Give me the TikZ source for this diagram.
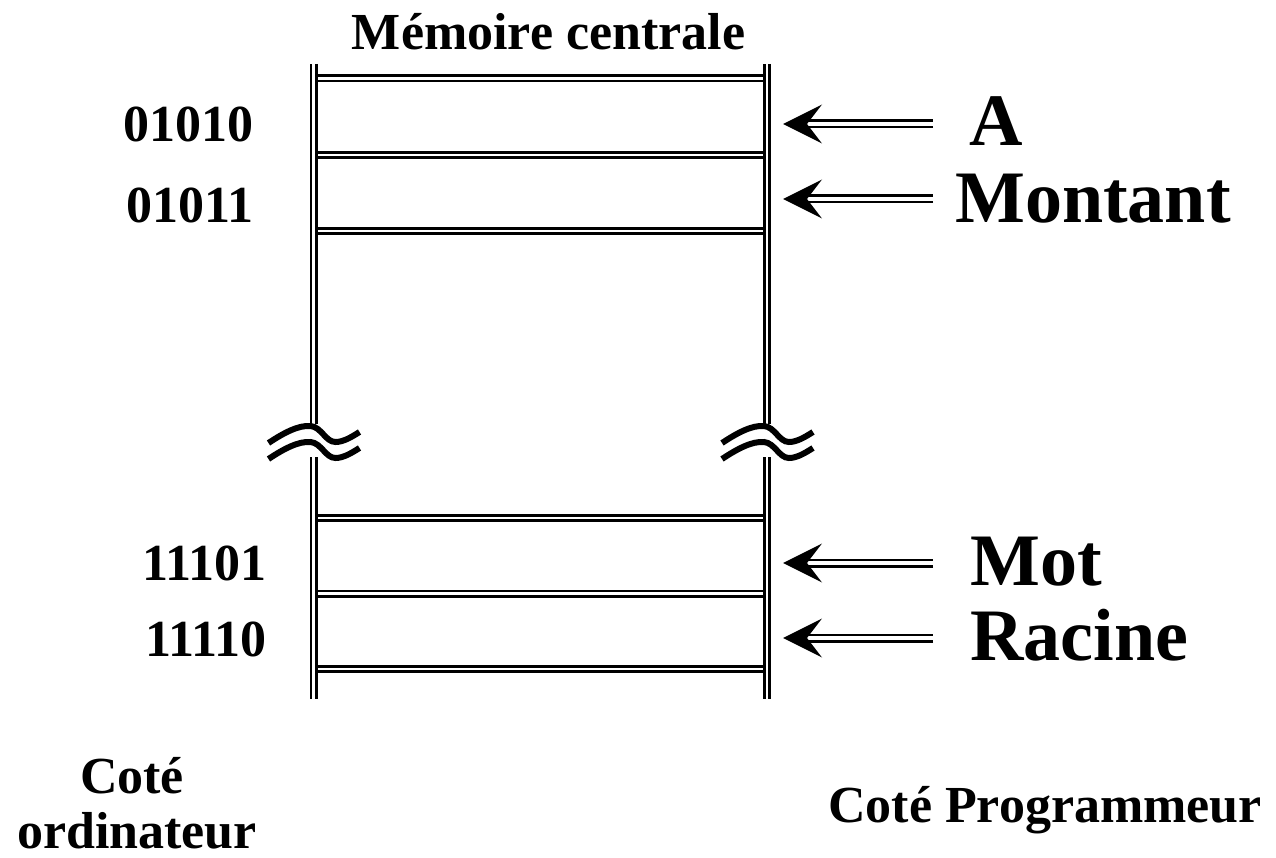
\documentclass[tikz,border=0pt]{standalone}
\usepackage{fontspec}
\setmainfont{Liberation Serif}
\begin{document}
\begin{tikzpicture}[x=1pt,y=-1pt,
  rail/.style={double, line width=2.7pt, double distance=2.6pt, line cap=butt},
  wave/.style={line width=6pt, line cap=butt},
  lbl/.style={inner sep=0pt, font=\fontsize{52}{60}\selectfont\bfseries},
  big/.style={inner sep=0pt, font=\fontsize{74}{84}\selectfont\bfseries},
  shaft/.style={double, line width=2.8pt, double distance=3.4pt, line cap=butt, shorten >=22pt},
  head/.pic={\fill (0,0) -- (39,-19.5) -- (24,0) -- (39,19.5) -- cycle;},
  brk/.pic={
    \draw[wave] (-45,443) .. controls (-30,433) and (-15,425) .. (-3,426)
                .. controls (8,427) and (12,442) .. (22,442)
                .. controls (30,442) and (38,437) .. (46,432);
    \draw[wave] (-45,459) .. controls (-30,449) and (-15,441) .. (-3,442)
                .. controls (8,443) and (12,458) .. (22,458)
                .. controls (30,458) and (38,453) .. (46,448);
  }
]
\useasboundingbox (0,0) rectangle (1276,858);

% memory rows (drawn first, the side rails cover their ends)
\foreach \y in {78.5,155,231,518,593.5,669}
  \draw[rail] (313.5,\y) -- (767,\y);

% side rails with the cut in the middle
\draw[rail] (313.5,64) -- (313.5,424);
\draw[rail] (313.5,457) -- (313.5,699);
\draw[rail] (767,64) -- (767,424);
\draw[rail] (767,457) -- (767,699);
\pic at (313.5,0) {brk};
\pic at (767,0) {brk};

% title
\node[lbl, anchor=base] (title) at (548.5,50) {Mémoire centrale};

% addresses
\node[lbl, anchor=base east] (ad1) at (254,142) {01010};
\node[lbl, anchor=base east] (ad2) at (254,223) {01011};
\node[lbl, anchor=base east] (ad3) at (267,580) {11101};
\node[lbl, anchor=base east] (ad4) at (267,656) {11110};

% variable names
\node[big, anchor=base west] (vA) at (969,146) {A};
\node[big, anchor=base west] (vMontant) at (955,223) {Montant};
\node[big, anchor=base west] (vMot) at (970,585) {Mot};
\node[big, anchor=base west] (vRacine) at (970,660) {Racine};

% pointers from names to cells
\coordinate (sA) at (933,124);   \coordinate (tA) at (783,124);
\coordinate (sM) at (933,199);   \coordinate (tM) at (783,199);
\coordinate (sW) at (933,563);   \coordinate (tW) at (783,563);
\coordinate (sR) at (933,638);   \coordinate (tR) at (783,638);
\foreach \s/\t in {sA/tA,sM/tM,sW/tW,sR/tR}{
  \draw[shaft] (\s) -- (\t);
  \pic at (\t) {head};
}

% sides
\node[lbl, anchor=base] (side1) at (132,793) {Coté};
\node[lbl, anchor=base] (side2) at (137,848) {ordinateur};
\node[lbl, anchor=base] (side3) at (1045,822) {Coté Programmeur};
\end{tikzpicture}
\end{document}
